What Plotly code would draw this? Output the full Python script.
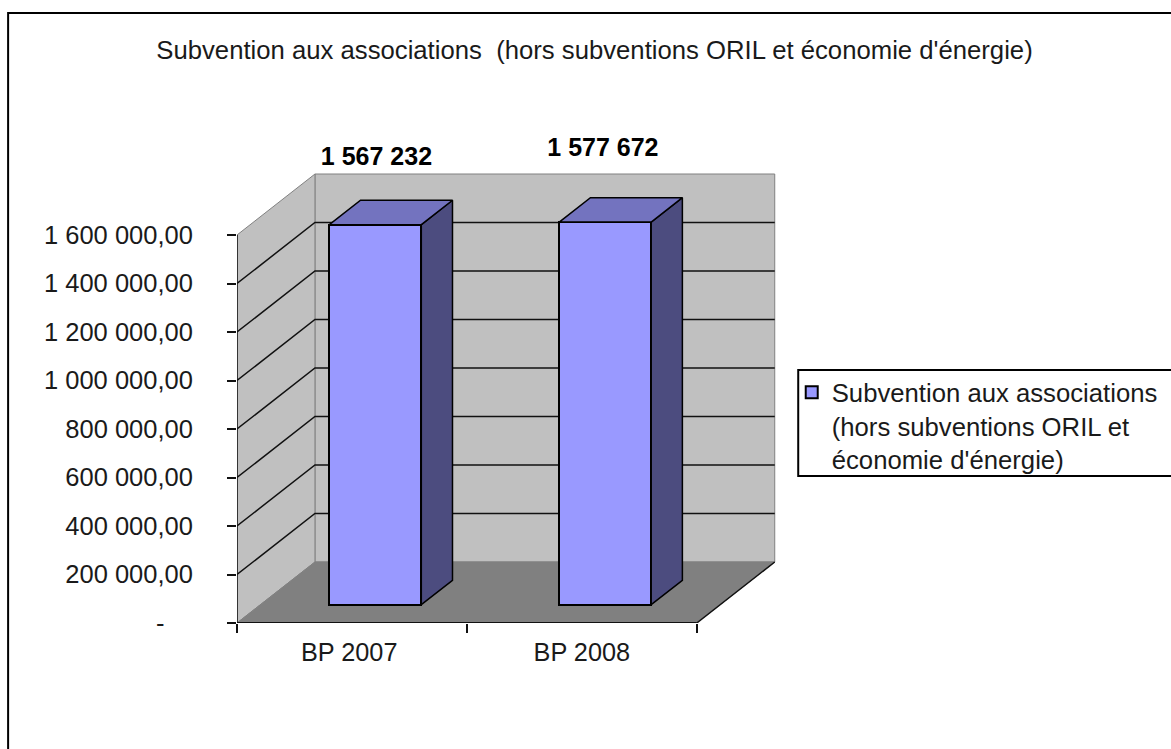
import plotly.graph_objects as go

# Data
categories = ['BP 2007', 'BP 2008']
values = [1567232, 1577672]
series_name = "Subvention aux associations<br>(hors subventions ORIL et<br>économie d'énergie)"
title_text = "Subvention aux associations \u00a0(hors subventions ORIL et économie d'énergie)"
y_ticks = [0, 200000, 400000, 600000, 800000, 1000000, 1200000, 1400000, 1600000]
y_ticktext = ['-\u00a0\u00a0\u00a0\u00a0', '200 000,00', '400 000,00', '600 000,00', '800 000,00',
              '1 000 000,00', '1 200 000,00', '1 400 000,00', '1 600 000,00']

# Canvas is a bit larger than the window, the frame and the legend run off it
W, H = 1260, 790
LEFT, BOTTOM_Y, TOP_Y = 236.5, 623, 100
PX_PER_CAT = 230
PX_PER_VAL = 48.5 / 200000
DEPTH_X = 78 / PX_PER_CAT
DEPTH_Y = 61 / PX_PER_VAL
Y_TOP = y_ticks[-1]
N = len(categories)
BAR_WIDTH = 0.4
BAR_D0, BAR_D1 = 0.3, 0.7  # bar position along the depth of the floor
FONT = 'Liberation Sans'


def project(cat, val, depth):
    # oblique projection: depth goes right and up
    return cat + DEPTH_X * depth, val + DEPTH_Y * depth


def poly(points):
    xs, ys = zip(*[project(*p) for p in points])
    return list(xs) + [xs[0]], list(ys) + [ys[0]]


def path_shape(points, fill=None, line='#808080', width=1, close=True):
    pts = [project(*p) for p in points]
    d = 'M' + 'L'.join(f'{x},{y}' for x, y in pts) + ('Z' if close else '')
    return dict(type='path', path=d, xref='x', yref='y', layer='below',
                fillcolor=fill or 'rgba(0,0,0,0)', line=dict(color=line, width=width))


plot_w = W - LEFT
plot_h = BOTTOM_Y - TOP_Y


def paper_x(px):
    return (px - LEFT) / plot_w


def paper_y(py):
    return (BOTTOM_Y - py) / plot_h


shapes = [
    # outer frame of the chart
    dict(type='rect', xref='paper', yref='paper', layer='below',
         x0=paper_x(7.5), x1=paper_x(W + 20), y0=paper_y(H + 20), y1=paper_y(13),
         line=dict(color='black', width=2), fillcolor='white'),
    # legend frame, runs past the right edge
    dict(type='rect', xref='paper', yref='paper', layer='below',
         x0=paper_x(798), x1=paper_x(W + 20), y0=paper_y(476), y1=paper_y(370),
         line=dict(color='black', width=2), fillcolor='white'),
    # back wall, side wall, floor
    path_shape([(0, 0, 1), (N, 0, 1), (N, Y_TOP, 1), (0, Y_TOP, 1)], '#C0C0C0'),
    path_shape([(0, 0, 0), (0, 0, 1), (0, Y_TOP, 1), (0, Y_TOP, 0)], '#C0C0C0'),
    path_shape([(0, 0, 0), (N, 0, 0), (N, 0, 1), (0, 0, 1)], '#808080', line='#808080'),
    path_shape([(N, 0, 0), (N, 0, 1)], line='#111111', width=1.5, close=False),
]
# grid lines run along the side wall then the back wall
for tick in y_ticks[1:-1]:
    shapes.append(path_shape([(0, tick, 0), (0, tick, 1), (N, tick, 1)],
                             line='#111111', width=1.5, close=False))
# axis lines only reach the last tick
shapes.append(path_shape([(0, 0, 0), (0, Y_TOP, 0)], line='#111111', width=1.5, close=False))
shapes.append(path_shape([(0, 0, 0), (N, 0, 0)], line='#111111', width=2, close=False))

fig = go.Figure()

# Front faces
centers = [i + 0.5 for i in range(N)]
front_x = [project(c, 0, BAR_D0)[0] for c in centers]
base_y = project(0, 0, BAR_D0)[1]
fig.add_trace(go.Bar(
    x=front_x, y=values, base=[base_y] * N, width=BAR_WIDTH,
    marker=dict(color='#9999FF', line=dict(color='black', width=2)),
    name=series_name, hoverinfo='skip'
))

# Side and top faces
for c, v in zip(centers, values):
    l, r = c - BAR_WIDTH / 2, c + BAR_WIDTH / 2
    sx, sy = poly([(r, 0, BAR_D0), (r, 0, BAR_D1), (r, v, BAR_D1), (r, v, BAR_D0)])
    tx, ty = poly([(l, v, BAR_D0), (r, v, BAR_D0), (r, v, BAR_D1), (l, v, BAR_D1)])
    for xs, ys, col in [(sx, sy, '#4C4C7F'), (tx, ty, '#7373BF')]:
        fig.add_trace(go.Scatter(x=xs, y=ys, mode='lines', fill='toself', fillcolor=col,
                                 line=dict(color='black', width=1.5),
                                 showlegend=False, hoverinfo='skip'))

# Value labels above the bars
label_lift = [41.5 / PX_PER_VAL, 48 / PX_PER_VAL]
label_dx = [0.005, -0.01]
fig.add_trace(go.Scatter(
    x=[project(c, 0, BAR_D0)[0] + dx for c, dx in zip(centers, label_dx)],
    y=[project(0, v, BAR_D1)[1] + lift for v, lift in zip(values, label_lift)],
    mode='text', text=[f'{v:,}'.replace(',', ' ') for v in values],
    textfont=dict(family=FONT, size=25, color='black', weight='bold'),
    textposition='middle center', showlegend=False, hoverinfo='skip', cliponaxis=False
))

fig.update_layout(
    width=W, height=H, autosize=False,
    margin=dict(l=LEFT, r=0, t=TOP_Y, b=H - BOTTOM_Y, pad=0),
    paper_bgcolor='white', plot_bgcolor='rgba(0,0,0,0)',
    font=dict(family=FONT, size=25.5, color='#1a1a1a'),
    title=dict(text=title_text, x=594.5 / W, xanchor='center', xref='container',
               y=1 - 50 / H, yanchor='middle', font=dict(size=25.7, color='#1a1a1a')),
    shapes=shapes,
    bargap=0,
    legend=dict(x=paper_x(791.5), y=paper_y(369), xanchor='left', yanchor='top', valign='top',
                borderwidth=0, bgcolor='rgba(0,0,0,0)',
                font=dict(size=25.7), itemwidth=30, entrywidth=400, entrywidthmode='pixels',
                itemclick=False, itemdoubleclick=False),
    xaxis=dict(range=[0, plot_w / PX_PER_CAT], tickmode='array',
               tickvals=[c + d for c, d in zip(centers, [-0.012, 0])], ticktext=categories,
               ticks='', showgrid=False, zeroline=False, showline=False, ticklabelstandoff=12,
               tickfont=dict(size=25.3),
               minor=dict(tickmode='array', tickvals=list(range(N + 1)), ticks='outside',
                          ticklen=9, tickwidth=1.5, tickcolor='#111111', showgrid=False)),
    yaxis=dict(range=[0, plot_h / PX_PER_VAL], tickmode='array', tickvals=y_ticks, ticktext=y_ticktext,
               ticks='outside', ticklen=9, tickwidth=1.5, tickcolor='#111111',
               showgrid=False, zeroline=False, showline=False, ticklabelstandoff=29),
)

fig.write_html("out.html", config={'displayModeBar': False},
               post_script="document.body.style.margin='0';document.body.style.overflow='hidden';")
